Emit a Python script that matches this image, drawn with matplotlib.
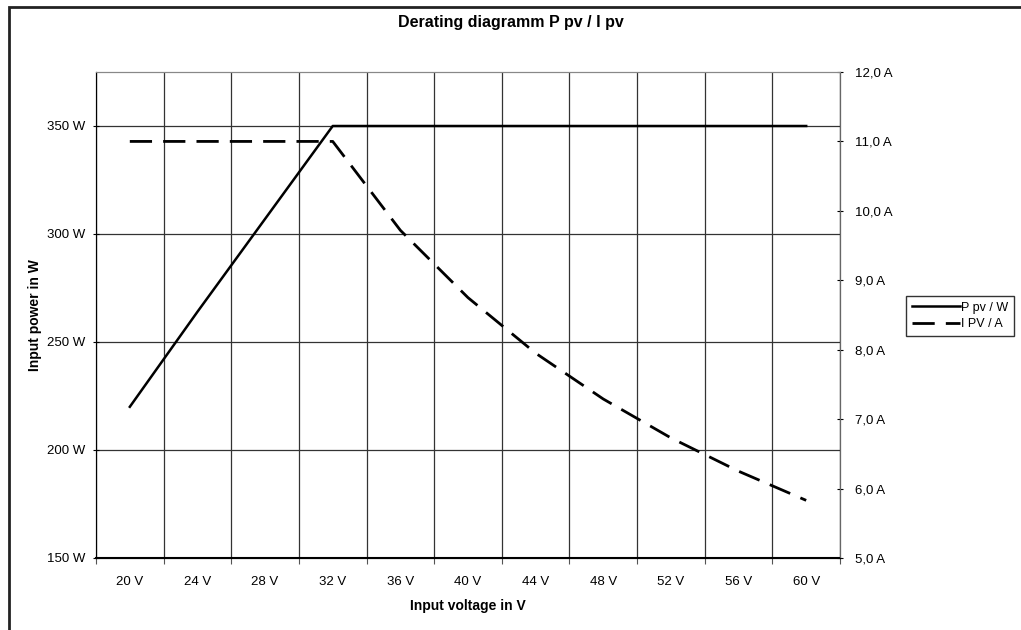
import matplotlib.pyplot as plt
from matplotlib.patches import Rectangle

plt.rcParams['font.family'] = ['Liberation Sans', 'DejaVu Sans']

voltages = ['20 V', '24 V', '28 V', '32 V', '36 V', '40 V', '44 V', '48 V', '52 V', '56 V', '60 V']
power_w = [220, 264, 307, 350, 350, 350, 350, 350, 350, 350, 350]
current_a = [11.0, 11.0, 11.0, 11.0, 9.72, 8.75, 7.95, 7.29, 6.73, 6.25, 5.83]

power_ticks = [150, 200, 250, 300, 350]
power_labels = ['150 W', '200 W', '250 W', '300 W', '350 W']
current_ticks = [5, 6, 7, 8, 9, 10, 11, 12]
current_labels = ['5,0 A', '6,0 A', '7,0 A', '8,0 A', '9,0 A', '10,0 A', '11,0 A', '12,0 A']

fig = plt.figure(figsize=(10.21, 6.30), dpi=100)
ax = fig.add_axes([96 / 1021, 72 / 630, 744 / 1021, 486 / 630])
ax2 = ax.twinx()

x = list(range(len(voltages)))
l1, = ax.plot(x, power_w, color='black', lw=1.8, label='P pv / W')
l2, = ax2.plot(x, current_a, color='black', lw=2.0, dashes=(8, 4), label='I PV / A')

ax.set_xlim(-0.5, len(voltages) - 0.5)
ax.set_ylim(150, 375)
ax2.set_ylim(5, 12)

# category boundaries as major ticks / grid, labels at centers
ax.set_xticks([i - 0.5 for i in range(len(voltages) + 1)])
ax.set_xticklabels([])
ax.set_xticks(x, minor=True)
ax.set_xticklabels(voltages, minor=True, fontsize=9.5)
ax.tick_params(axis='x', which='minor', length=0, pad=13)
ax.tick_params(axis='x', which='major', length=4, direction='out', color='#555555')

ax.set_yticks(power_ticks)
ax.set_yticklabels(power_labels, fontsize=9.5)
ax.tick_params(axis='y', length=5, direction='inout', pad=5)
ax2.set_yticks(current_ticks)
ax2.set_yticklabels(current_labels, fontsize=9.5)
ax2.tick_params(axis='y', length=5, direction='inout', pad=8)

ax.grid(True, which='major', color='#333333', lw=0.9)
ax.set_axisbelow(True)

ax.spines['top'].set_color('#888888')
ax2.spines['top'].set_color('#888888')
ax2.spines['right'].set_color('#666666')
ax.spines['left'].set_color('#444444')
ax.spines['bottom'].set_linewidth(1.5)

ax.set_xlabel('Input voltage in V', fontsize=10, fontweight='bold', labelpad=8)
ax.set_ylabel('Input power in W', fontsize=10, fontweight='bold', labelpad=4)
fig.text(0.5, 1 - 22 / 630, 'Derating diagramm P pv / I pv', ha='center', va='center',
         fontsize=11.5, fontweight='bold')

fig.legend(handles=[l1, l2], loc='center', bbox_to_anchor=(960 / 1021, 1 - 316 / 630),
           fontsize=9, frameon=True, fancybox=False, edgecolor='black',
           handlelength=3.8, handletextpad=0.1, borderpad=0.45, labelspacing=0.35)

fig.patches.append(Rectangle((9 / 1021, -0.1), 1.2, 1 - 7 / 630 + 0.1,
                             transform=fig.transFigure, fill=False, ec='#222222', lw=2))

fig.savefig('out.png', dpi=100)
